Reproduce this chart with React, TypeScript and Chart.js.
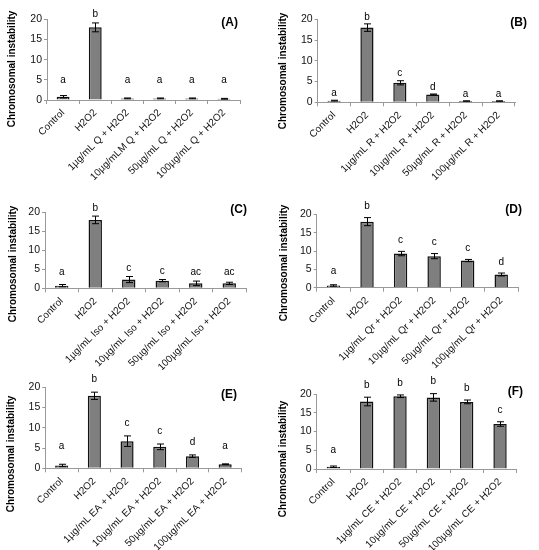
import React, { useEffect, useRef } from 'react';
import { Chart, ChartConfiguration, Plugin, registerables } from 'chart.js';

Chart.register(...registerables);

const FONT = '"Liberation Sans", Arial, sans-serif';

// y axis ticks shared by all panels
const yTicks = [0, 5, 10, 15, 20];
const yTitle = 'Chromosomal instability';

// (A) Q
const labelsA = ['Control', 'H2O2', '1µg/mL Q + H2O2', '10µg/mLM Q + H2O2', '50µg/mL Q + H2O2', '100µg/mL Q + H2O2'];
const valuesA = [0.8, 18, 0.4, 0.4, 0.4, 0.3];
const errorsA = [0.3, 1.1, 0.1, 0.1, 0.1, 0.1];
const lettersA = ['a', 'b', 'a', 'a', 'a', 'a'];

// (B) R
const labelsB = ['Control', 'H2O2', '1µg/mL R + H2O2', '10µg/mL R + H2O2', '50µg/mL R + H2O2', '100µg/mL R + H2O2'];
const valuesB = [0.4, 18, 4.7, 1.9, 0.3, 0.3];
const errorsB = [0.1, 0.9, 0.5, 0.1, 0.05, 0.05];
const lettersB = ['a', 'b', 'c', 'd', 'a', 'a'];

// (C) Iso
const labelsC = ['Control', 'H2O2', '1µg/mL Iso + H2O2', '10µg/mL Iso + H2O2', '50µg/mL Iso + H2O2', '100µg/mL Iso + H2O2'];
const valuesC = [0.7, 18, 2.3, 2.0, 1.3, 1.3];
const errorsC = [0.3, 1.0, 0.8, 0.3, 0.6, 0.3];
const lettersC = ['a', 'b', 'c', 'c', 'ac', 'ac'];

// (D) Qr
const labelsD = ['Control', 'H2O2', '1µg/mL Qr + H2O2', '10µg/mL Qr + H2O2', '50µg/mL Qr + H2O2', '100µg/mL Qr + H2O2'];
const valuesD = [0.6, 18, 9.3, 8.6, 7.4, 3.6];
const errorsD = [0.2, 1.1, 0.6, 0.7, 0.3, 0.4];
const lettersD = ['a', 'b', 'c', 'c', 'c', 'd'];

// (E) EA
const labelsE = ['Control', 'H2O2', '1µg/mL EA + H2O2', '10µg/mL EA + H2O2', '50µg/mL EA + H2O2', '100µg/mL EA + H2O2'];
const valuesE = [0.7, 17.9, 6.7, 5.3, 3.0, 1.0];
const errorsE = [0.3, 0.9, 1.3, 0.7, 0.3, 0.1];
const lettersE = ['a', 'b', 'c', 'c', 'd', 'a'];

// (F) CE
const labelsF = ['Control', 'H2O2', '1µg/mL CE + H2O2', '10µg/mL CE + H2O2', '50µg/mL CE + H2O2', '100µg/mL CE + H2O2'];
const valuesF = [0.6, 18, 19.4, 19.1, 17.9, 12.0];
const errorsF = [0.2, 1.15, 0.35, 1.0, 0.5, 0.6];
const lettersF = ['a', 'b', 'b', 'b', 'b', 'c'];

interface PanelSpec {
  tag: string;
  labels: string[];
  values: number[];
  errors: number[];
  letters: string[];
}

interface PanelBox {
  left: number;
  top: number;
  width: number;
  height: number;
  area: { l: number; t: number; r: number; b: number };
  titleX: number;
  titleY: number;
  tagX: number;
  tagY: number;
  gap: number; // px between error bar top and letter
  floor: number; // lowest level (in axis units) a letter sits at
}

const specs: PanelSpec[] = [
  { tag: '(A)', labels: labelsA, values: valuesA, errors: errorsA, letters: lettersA },
  { tag: '(B)', labels: labelsB, values: valuesB, errors: errorsB, letters: lettersB },
  { tag: '(C)', labels: labelsC, values: valuesC, errors: errorsC, letters: lettersC },
  { tag: '(D)', labels: labelsD, values: valuesD, errors: errorsD, letters: lettersD },
  { tag: '(E)', labels: labelsE, values: valuesE, errors: errorsE, letters: lettersE },
  { tag: '(F)', labels: labelsF, values: valuesF, errors: errorsF, letters: lettersF },
];

const boxes: PanelBox[] = [
  { left: 0, top: 0, width: 269, height: 185, area: { l: 47, t: 19.3, r: 240, b: 100 }, titleX: 12.5, titleY: 69, tagX: 238, tagY: 23, gap: 9, floor: 5 },
  { left: 270, top: 0, width: 269, height: 185, area: { l: 47.6, t: 19.3, r: 245, b: 102.3 }, titleX: 13.5, titleY: 71, tagX: 257, tagY: 22.5, gap: 7, floor: 0 },
  { left: 0, top: 185, width: 269, height: 185, area: { l: 45, t: 27.3, r: 246, b: 103.3 }, titleX: 13, titleY: 79, tagX: 247, tagY: 25, gap: 8, floor: 4.2 },
  { left: 270, top: 185, width: 269, height: 185, area: { l: 46.7, t: 29.3, r: 248, b: 102.7 }, titleX: 14.5, titleY: 78, tagX: 252, tagY: 25, gap: 11, floor: 4.5 },
  { left: 0, top: 370, width: 269, height: 180, area: { l: 45.3, t: 17.3, r: 241.5, b: 98.3 }, titleX: 11.5, titleY: 84, tagX: 237, tagY: 24.5, gap: 13, floor: 5.5 },
  { left: 270, top: 370, width: 269, height: 180, area: { l: 46.7, t: 24, r: 246.7, b: 99 }, titleX: 13.5, titleY: 89, tagX: 253, tagY: 22, gap: 12, floor: 5.1 },
];

const Panel: React.FC<{ spec: PanelSpec; box: PanelBox }> = ({ spec, box }) => {
  const canvasRef = useRef<HTMLCanvasElement | null>(null);

  useEffect(() => {
    if (!canvasRef.current) return;
    const ctx = canvasRef.current.getContext('2d');
    if (!ctx) return;

    // error bars, significance letters, panel tag and y title
    const annotate: Plugin<'bar'> = {
      id: 'annotate',
      afterDatasetsDraw(chart) {
        const c = chart.ctx;
        const ys = chart.scales.y;
        const bars = chart.getDatasetMeta(0).data;
        c.save();
        c.strokeStyle = '#000';
        c.lineWidth = 1;
        c.fillStyle = '#000';
        c.font = `10px ${FONT}`;
        c.textAlign = 'center';
        c.textBaseline = 'middle';
        bars.forEach((bar, i) => {
          const v = spec.values[i];
          const e = spec.errors[i];
          const top = ys.getPixelForValue(v + e);
          const bot = ys.getPixelForValue(Math.max(0, v - e));
          const x = Math.round(bar.x) + 0.5;
          c.beginPath();
          c.moveTo(x, top);
          c.lineTo(x, bot);
          c.moveTo(x - 3.5, top);
          c.lineTo(x + 3.5, top);
          c.moveTo(x - 3.5, bot);
          c.lineTo(x + 3.5, bot);
          c.stroke();
          const ly = Math.min(top - box.gap, ys.getPixelForValue(box.floor));
          c.fillText(spec.letters[i], bar.x, ly);
        });

        c.font = `bold 12px ${FONT}`;
        c.textAlign = 'right';
        c.fillText(spec.tag, box.tagX, box.tagY);

        c.translate(box.titleX, box.titleY);
        c.rotate(-Math.PI / 2);
        c.textAlign = 'center';
        c.font = `bold 10px ${FONT}`;
        c.fillText(yTitle, 0, 0);
        c.restore();
      },
    };

    const config: ChartConfiguration<'bar'> = {
      type: 'bar',
      data: {
        labels: spec.labels,
        datasets: [
          {
            data: spec.values,
            backgroundColor: '#7f7f7f',
            borderColor: '#111',
            borderWidth: 1.5,
            barPercentage: 0.4,
            categoryPercentage: 1,
          },
        ],
      },
      options: {
        animation: false,
        responsive: true,
        maintainAspectRatio: false,
        layout: {
          padding: { left: 0, top: box.area.t, right: box.width - box.area.r, bottom: 0 },
        },
        plugins: {
          legend: { display: false },
          tooltip: { enabled: false },
        },
        scales: {
          x: {
            grid: { drawOnChartArea: false, drawTicks: true, tickLength: 4, color: '#999', offset: true },
            border: { color: '#999' },
            ticks: {
              autoSkip: false,
              minRotation: 45,
              maxRotation: 45,
              padding: 3,
              color: '#111',
              font: { family: FONT, size: 10 },
            },
            afterFit: (scale) => {
              scale.height = box.height - box.area.b;
            },
          },
          y: {
            min: 0,
            max: 20,
            afterBuildTicks: (scale) => {
              scale.ticks = yTicks.map((v) => ({ value: v }));
            },
            grid: { drawOnChartArea: false, drawTicks: true, tickLength: 3, color: '#999' },
            border: { color: '#999' },
            ticks: {
              padding: 2,
              color: '#111',
              font: { family: FONT, size: 10.5 },
            },
            afterFit: (scale) => {
              scale.width = box.area.l;
            },
          },
        },
      },
      plugins: [annotate],
    };

    const chart = new Chart(ctx, config);

    return () => {
      chart.destroy();
    };
  }, [spec, box]);

  return (
    <div
      style={{
        position: 'absolute',
        left: box.left,
        top: box.top,
        width: box.width,
        height: box.height,
      }}
    >
      <canvas ref={canvasRef} />
    </div>
  );
};

export default function App() {
  return (
    <div style={{ position: 'absolute', left: 0, top: 0, width: 539, height: 550, background: '#fff' }}>
      {specs.map((spec, i) => (
        <Panel key={spec.tag} spec={spec} box={boxes[i]} />
      ))}
    </div>
  );
}
